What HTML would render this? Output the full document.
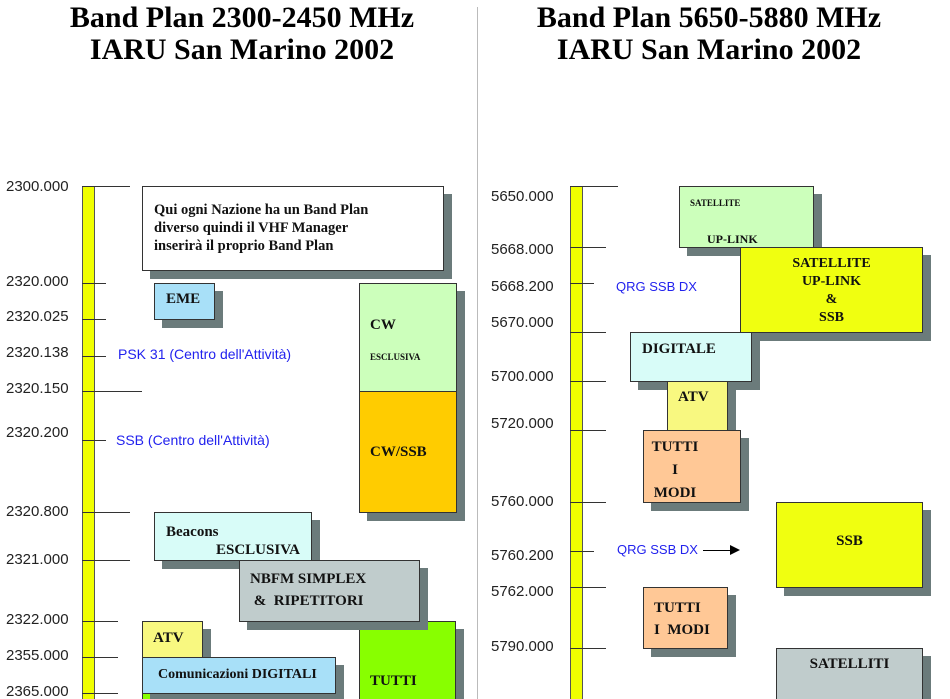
<!DOCTYPE html>
<html style="overflow:hidden"><head><meta charset="utf-8"><style>
html,body{margin:0;width:950px;height:699px;overflow:hidden}
body{background:#fff;position:relative;font-family:"Liberation Sans",sans-serif}
.a{position:absolute}
.t{position:absolute;width:420px;text-align:center;font-family:"Liberation Serif",serif;font-weight:bold;font-size:30px;line-height:32px}
.lb{position:absolute;font-size:15px;color:#222;line-height:16px}
.tk{position:absolute;height:1px;background:#333}
.bar{position:absolute;width:11px;background:#f0ff00;border:1px solid #555;border-bottom:none}
.bx{position:absolute;box-sizing:border-box;border:1px solid #333;box-shadow:8px 8px 0 #6b7b7b;font-family:"Liberation Serif",serif;font-weight:bold;font-size:15px;color:#111;line-height:18px}
.bl{position:absolute;color:#2222ee;font-size:14px}
</style></head><body>
<div class="a" style="left:477px;top:7px;width:1px;height:692px;background:#bbb"></div>
<div class="t" style="left:32px;top:2px">Band Plan 2300-2450 MHz<br>IARU San Marino 2002</div>
<div class="t" style="left:499px;top:2px">Band Plan 5650-5880 MHz<br>IARU San Marino 2002</div>

<!-- left -->
<div class="bar" style="left:82px;top:186px;height:520px"></div>
<div class="tk" style="left:82px;top:186px;width:48px"></div>
<div class="tk" style="left:82px;top:283px;width:24px"></div>
<div class="tk" style="left:82px;top:319px;width:24px"></div>
<div class="tk" style="left:82px;top:356px;width:24px"></div>
<div class="tk" style="left:82px;top:391px;width:60px"></div>
<div class="tk" style="left:82px;top:440px;width:24px"></div>
<div class="tk" style="left:82px;top:512px;width:48px"></div>
<div class="tk" style="left:82px;top:560px;width:48px"></div>
<div class="tk" style="left:82px;top:621px;width:36px"></div>
<div class="tk" style="left:82px;top:657px;width:36px"></div>
<div class="tk" style="left:82px;top:693px;width:36px"></div>
<div class="lb" style="left:6px;top:179px">2300.000</div>
<div class="lb" style="left:6px;top:274px">2320.000</div>
<div class="lb" style="left:6px;top:309px">2320.025</div>
<div class="lb" style="left:6px;top:345px">2320.138</div>
<div class="lb" style="left:6px;top:381px">2320.150</div>
<div class="lb" style="left:6px;top:425px">2320.200</div>
<div class="lb" style="left:6px;top:504px">2320.800</div>
<div class="lb" style="left:6px;top:552px">2321.000</div>
<div class="lb" style="left:6px;top:612px">2322.000</div>
<div class="lb" style="left:6px;top:648px">2355.000</div>
<div class="lb" style="left:6px;top:684px">2365.000</div>
<div class="bl" style="left:118px;top:346px">PSK 31 (Centro dell'Attività)</div>
<div class="bl" style="left:116px;top:432px">SSB (Centro dell'Attività)</div>

<div class="bx" style="left:142px;top:186px;width:302px;height:85px;background:#fff;font-size:14.5px;padding:14px 0 0 11px;line-height:18px">Qui ogni Nazione ha un Band Plan<br>diverso quindi il VHF Manager<br>inserirà il proprio Band Plan</div>
<div class="bx" style="left:154px;top:283px;width:61px;height:37px;background:#a8e0f8;padding:6px 0 0 11px">EME</div>
<div class="bx" style="left:359px;top:283px;width:98px;height:109px;background:#ccffbb;padding:32px 0 0 10px">CW<div style="font-size:9px;margin-top:14px">ESCLUSIVA</div></div>
<div class="bx" style="left:359px;top:391px;width:98px;height:122px;background:#ffcc00;padding:51px 0 0 10px">CW/SSB</div>
<div class="bx" style="left:142px;top:693px;width:158px;height:20px;background:#88ff00"></div>
<div class="bx" style="left:359px;top:621px;width:97px;height:90px;background:#88ff00;padding:50px 0 0 10px">TUTTI</div>
<div class="bx" style="left:154px;top:512px;width:158px;height:49px;background:#d8fcf8;padding:10px 0 0 11px">Beacons<br><span style="margin-left:50px">ESCLUSIVA</span></div>
<div class="bx" style="left:239px;top:560px;width:181px;height:62px;background:#c0cccc;padding:7px 0 0 10px;line-height:22px">NBFM SIMPLEX<br>&nbsp;&amp;&nbsp; RIPETITORI</div>
<div class="bx" style="left:142px;top:621px;width:61px;height:37px;background:#f8f880;padding:7px 0 0 10px">ATV</div>
<div class="bx" style="left:142px;top:657px;width:194px;height:37px;background:#a8e0f8;padding:8px 0 0 15px;font-size:14px">Comunicazioni DIGITALI</div>

<!-- right -->
<div class="bar" style="left:570px;top:186px;height:520px"></div>
<div class="tk" style="left:570px;top:186px;width:48px"></div>
<div class="tk" style="left:570px;top:247px;width:36px"></div>
<div class="tk" style="left:570px;top:283px;width:24px"></div>
<div class="tk" style="left:570px;top:332px;width:36px"></div>
<div class="tk" style="left:570px;top:381px;width:36px"></div>
<div class="tk" style="left:570px;top:430px;width:36px"></div>
<div class="tk" style="left:570px;top:502px;width:36px"></div>
<div class="tk" style="left:570px;top:551px;width:24px"></div>
<div class="tk" style="left:570px;top:587px;width:36px"></div>
<div class="tk" style="left:570px;top:648px;width:36px"></div>
<div class="lb" style="left:491px;top:189px">5650.000</div>
<div class="lb" style="left:491px;top:242px">5668.000</div>
<div class="lb" style="left:491px;top:279px">5668.200</div>
<div class="lb" style="left:491px;top:315px">5670.000</div>
<div class="lb" style="left:491px;top:369px">5700.000</div>
<div class="lb" style="left:491px;top:416px">5720.000</div>
<div class="lb" style="left:491px;top:494px">5760.000</div>
<div class="lb" style="left:491px;top:548px">5760.200</div>
<div class="lb" style="left:491px;top:584px">5762.000</div>
<div class="lb" style="left:491px;top:639px">5790.000</div>
<div class="bl" style="left:616px;top:279px;font-size:13px">QRG SSB DX</div>
<div class="bl" style="left:617px;top:542px;font-size:13px">QRG SSB DX</div>
<div class="a" style="left:703px;top:550px;width:28px;height:1px;background:#000"></div>
<div class="a" style="left:730px;top:545px;width:0;height:0;border-left:10px solid #000;border-top:5px solid transparent;border-bottom:5px solid transparent"></div>

<div class="bx" style="left:679px;top:186px;width:135px;height:62px;background:#ccffbb;padding:7px 0 0 10px;font-size:9px">SATELLITE<div style="font-size:12px;margin:18px 0 0 17px">UP-LINK</div></div>
<div class="bx" style="left:740px;top:247px;width:183px;height:86px;background:#f0ff10;text-align:center;padding-top:7px;font-size:14px">SATELLITE<br>UP-LINK<br>&amp;<br>SSB</div>
<div class="bx" style="left:630px;top:332px;width:122px;height:50px;background:#d8fcf8;padding:7px 0 0 11px">DIGITALE</div>
<div class="bx" style="left:667px;top:381px;width:61px;height:50px;background:#f8f880;padding:6px 0 0 10px">ATV</div>
<div class="bx" style="left:643px;top:430px;width:98px;height:73px;background:#ffc896;text-align:center;padding:5px 34px 0 0;line-height:23px">TUTTI<br>I<br>MODI</div>
<div class="bx" style="left:776px;top:502px;width:147px;height:86px;background:#f0ff10;text-align:center;padding-top:29px">SSB</div>
<div class="bx" style="left:643px;top:587px;width:85px;height:62px;background:#ffc896;padding:9px 0 0 10px;line-height:22px">TUTTI<br>I&nbsp; MODI</div>
<div class="bx" style="left:776px;top:648px;width:147px;height:70px;background:#c0cccc;text-align:center;padding-top:6px">SATELLITI</div>
</body></html>
